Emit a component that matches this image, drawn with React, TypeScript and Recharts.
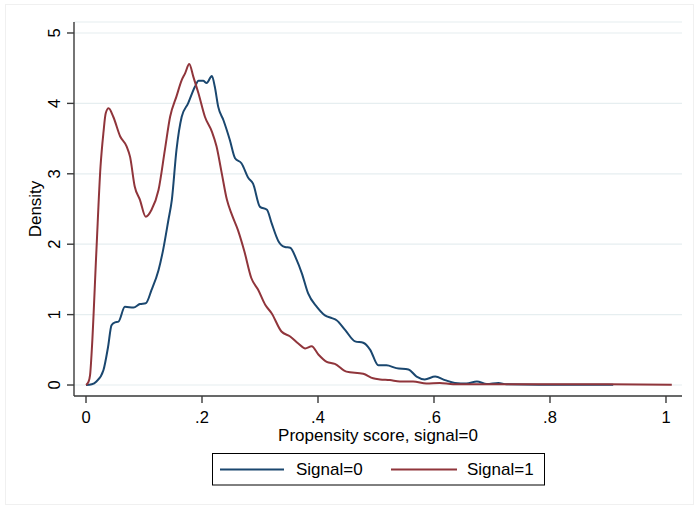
import React from "react";
import { LineChart, Line, XAxis, YAxis, CartesianGrid, Legend } from "recharts";

const xTicks = [0, 0.2, 0.4, 0.6, 0.8, 1];
const xTickLabels = ["0", ".2", ".4", ".6", ".8", "1"];
const yTicks = [0, 1, 2, 3, 4, 5];
const seriesNames = ["Signal=0", "Signal=1"];

const signal0X = [0, 0.01, 0.018, 0.03, 0.038, 0.044, 0.05, 0.056, 0.067, 0.082, 0.093, 0.103, 0.113, 0.125, 0.133, 0.142, 0.148, 0.156, 0.165, 0.176, 0.188, 0.194, 0.202, 0.208, 0.217, 0.222, 0.228, 0.237, 0.248, 0.257, 0.268, 0.28, 0.288, 0.3, 0.312, 0.32, 0.332, 0.343, 0.352, 0.363, 0.372, 0.383, 0.398, 0.412, 0.424, 0.432, 0.447, 0.464, 0.478, 0.49, 0.504, 0.518, 0.535, 0.556, 0.57, 0.584, 0.602, 0.619, 0.636, 0.656, 0.674, 0.691, 0.711, 0.725, 0.8, 0.909];
const signal0Y = [0, 0.01, 0.05, 0.21, 0.54, 0.85, 0.89, 0.9, 1.11, 1.1, 1.15, 1.16, 1.35, 1.63, 1.92, 2.34, 2.63, 3.34, 3.81, 4.0, 4.24, 4.32, 4.32, 4.29, 4.39, 4.24, 3.95, 3.76, 3.48, 3.22, 3.15, 2.94, 2.86, 2.53, 2.49, 2.3, 2.04, 1.96, 1.95, 1.78, 1.59, 1.3, 1.11, 0.99, 0.95, 0.92, 0.78, 0.62, 0.6, 0.5, 0.28, 0.28, 0.24, 0.22, 0.12, 0.08, 0.12, 0.07, 0.03, 0.02, 0.05, 0.014, 0.03, 0.01, 0.005, 0.005];

const signal1X = [0, 0.004, 0.007, 0.01, 0.018, 0.025, 0.03, 0.034, 0.039, 0.047, 0.059, 0.07, 0.076, 0.084, 0.093, 0.103, 0.113, 0.125, 0.136, 0.145, 0.156, 0.165, 0.171, 0.178, 0.185, 0.194, 0.205, 0.217, 0.225, 0.234, 0.243, 0.251, 0.262, 0.273, 0.285, 0.297, 0.309, 0.32, 0.337, 0.352, 0.366, 0.378, 0.389, 0.401, 0.415, 0.429, 0.449, 0.478, 0.495, 0.507, 0.524, 0.541, 0.564, 0.587, 0.61, 0.633, 0.7, 0.8, 0.9, 1.01];
const signal1Y = [0, 0.04, 0.14, 0.5, 1.92, 3.1, 3.58, 3.86, 3.93, 3.81, 3.53, 3.39, 3.24, 2.82, 2.63, 2.39, 2.49, 2.77, 3.34, 3.81, 4.1, 4.33, 4.43, 4.56, 4.38, 4.14, 3.81, 3.6, 3.39, 3.01, 2.63, 2.43, 2.2, 1.9, 1.52, 1.35, 1.14, 1.02, 0.76, 0.69, 0.59, 0.52, 0.55, 0.43, 0.33, 0.3, 0.19, 0.16, 0.095, 0.08, 0.07, 0.05, 0.05, 0.02, 0.03, 0.01, 0.01, 0.01, 0.01, 0.005];

const signal0 = signal0X.map((x, i) => ({ x, y: signal0Y[i] }));
const signal1 = signal1X.map((x, i) => ({ x, y: signal1Y[i] }));

const BLUE = "#1a476f";
const RED = "#90353b";
const FONT = "'Liberation Sans', Arial, sans-serif";
const AXIS = "#3a3a3a";

const XTick = (props: any) => {
  const { x, payload } = props;
  const idx = xTicks.indexOf(payload.value);
  return (
    <text x={x} y={423} textAnchor="middle" fontFamily={FONT} fontSize={16.5} fill="#000">
      {idx >= 0 ? xTickLabels[idx] : String(payload.value)}
    </text>
  );
};

const YTick = (props: any) => {
  const { y, payload } = props;
  return (
    <text x={60} y={y} transform={`rotate(-90 60 ${y})`} textAnchor="middle" fontFamily={FONT} fontSize={16.5} fill="#000">
      {String(payload.value)}
    </text>
  );
};

const LegendBox = () => (
  <svg width={334} height={33} style={{ display: "block" }}>
    <rect x={0.5} y={0.5} width={332} height={31.5} fill="#fff" stroke="#000" strokeWidth={1} />
    <line x1={8} x2={72} y1={16.5} y2={16.5} stroke={BLUE} strokeWidth={2} />
    <text x={84} y={21.5} fontFamily={FONT} fontSize={17} fill="#000">{seriesNames[0]}</text>
    <line x1={179} x2={245} y1={16.5} y2={16.5} stroke={RED} strokeWidth={2} />
    <text x={255} y={21.5} fontFamily={FONT} fontSize={17} fill="#000">{seriesNames[1]}</text>
  </svg>
);

export default function App() {
  return (
    <div style={{ position: "absolute", left: 0, top: 0, width: 695, height: 508, background: "#fff" }}>
      <div style={{ position: "absolute", left: 5, top: 4, width: 687, height: 499, border: "1px solid #f0f0f0" }} />
      <div style={{ position: "absolute", left: 0, top: 0 }}>
        <LineChart width={695} height={508} margin={{ top: 22, right: 13, bottom: 72, left: 24 }}>
          <CartesianGrid horizontal={true} vertical={false} stroke="#e6eef0" strokeWidth={1.2} />
          <XAxis
            dataKey="x"
            type="number"
            domain={[-0.0207, 1.0276]}
            ticks={xTicks}
            allowDataOverflow
            tick={<XTick />}
            tickSize={7}
            axisLine={{ stroke: AXIS, strokeWidth: 1.4 }}
            tickLine={{ stroke: AXIS, strokeWidth: 1.4 }}
            height={40}
            label={{ value: "Propensity score, signal=0", position: "insideBottom", content: (p: any) => (
              <text x={378} y={441} textAnchor="middle" fontFamily={FONT} fontSize={17} fill="#000">Propensity score, signal=0</text>
            ) }}
          />
          <YAxis
            type="number"
            domain={[-0.156, 5.156]}
            ticks={yTicks}
            allowDataOverflow
            tick={<YTick />}
            tickSize={7}
            width={50}
            axisLine={{ stroke: AXIS, strokeWidth: 1.4 }}
            tickLine={{ stroke: AXIS, strokeWidth: 1.4 }}
            label={{ value: "Density", content: () => (
              <text x={41} y={209} transform="rotate(-90 41 209)" textAnchor="middle" fontFamily={FONT} fontSize={17} fill="#000">Density</text>
            ) }}
          />
          <Line data={signal0} dataKey="y" name={seriesNames[0]} type="monotone" stroke={BLUE} strokeWidth={2} dot={false} isAnimationActive={false} />
          <Line data={signal1} dataKey="y" name={seriesNames[1]} type="monotone" stroke={RED} strokeWidth={2} dot={false} isAnimationActive={false} />
          <Legend layout="vertical" align="center" verticalAlign="middle" content={() => <LegendBox />} wrapperStyle={{ position: "absolute", left: 212, top: 453, width: 334, height: 33, bottom: "auto", right: "auto" }} />
        </LineChart>
      </div>
    </div>
  );
}
